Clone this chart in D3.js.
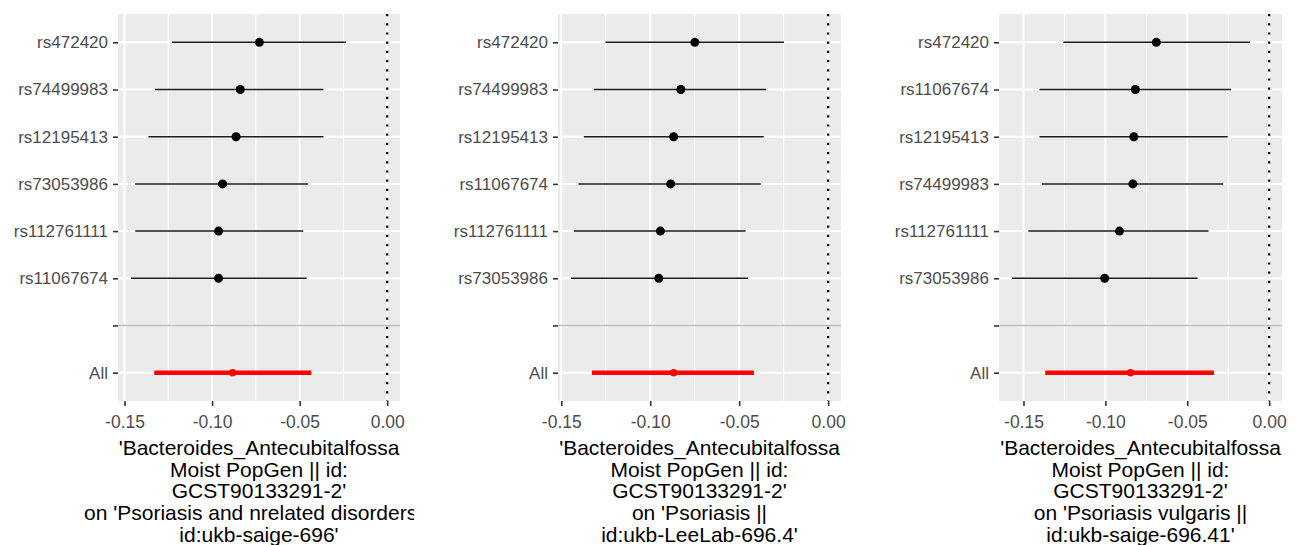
<!DOCTYPE html>
<html>
<head>
<meta charset="utf-8">
<script src="https://cdn.jsdelivr.net/npm/d3@7"></script>
<style>
  body { margin: 0; background: #fff; }
  svg text { font-family: "Liberation Sans", Arial, sans-serif; }
</style>
</head>
<body>
<div id="chart"></div>
<script>
// data: snp order top to bottom, estimate, ci low, ci high
var snps1 = ["rs472420", "rs74499983", "rs12195413", "rs73053986", "rs112761111", "rs11067674"];
var beta1 = [-0.0730, -0.0839, -0.0863, -0.0940, -0.0963, -0.0963];
var lo1 = [-0.1229, -0.1326, -0.1363, -0.1439, -0.1439, -0.1464];
var hi1 = [-0.0234, -0.0364, -0.0364, -0.0452, -0.0479, -0.0460];
var all1 = [-0.0883, -0.1330, -0.0433];
var title1 = ["'Bacteroides_Antecubitalfossa", "Moist PopGen || id:", "GCST90133291-2'", "on 'Psoriasis and nrelated disorders ||", "id:ukb-saige-696'"];

var snps2 = ["rs472420", "rs74499983", "rs12195413", "rs11067674", "rs112761111", "rs73053986"];
var beta2 = [-0.0749, -0.0828, -0.0868, -0.0885, -0.0943, -0.0952];
var lo2 = [-0.1252, -0.1317, -0.1373, -0.1403, -0.1429, -0.1446];
var hi2 = [-0.0248, -0.0348, -0.0362, -0.0379, -0.0464, -0.0449];
var all2 = [-0.0868, -0.1328, -0.0417];
var title2 = ["'Bacteroides_Antecubitalfossa", "Moist PopGen || id:", "GCST90133291-2'", "on 'Psoriasis ||", "id:ukb-LeeLab-696.4'"];

var snps3 = ["rs472420", "rs11067674", "rs12195413", "rs74499983", "rs112761111", "rs73053986"];
var beta3 = [-0.0689, -0.0817, -0.0826, -0.0832, -0.0914, -0.1004];
var lo3 = [-0.1257, -0.1402, -0.1402, -0.1388, -0.1470, -0.1571];
var hi3 = [-0.0116, -0.0233, -0.0253, -0.0280, -0.0370, -0.0437];
var all3 = [-0.0846, -0.1367, -0.0337];
var title3 = ["'Bacteroides_Antecubitalfossa", "Moist PopGen || id:", "GCST90133291-2'", "on 'Psoriasis vulgaris ||", "id:ukb-saige-696.41'"];

var xTicks = [-0.15, -0.10, -0.05, 0];

var svgWidth = 1297;
var svgHeight = 545;
var panelTop = 14;
var panelBottom = 401;

var panels = [
  {snps: snps1, beta: beta1, lo: lo1, hi: hi1, all: all1, title: title1, left: 118, right: 400},
  {snps: snps2, beta: beta2, lo: lo2, hi: hi2, all: all2, title: title2, left: 558, right: 841},
  {snps: snps3, beta: beta3, lo: lo3, hi: hi3, all: all3, title: title3, left: 999, right: 1282}
];

var svg = d3.select("#chart")
  .append("svg")
  .attr("width", svgWidth)
  .attr("height", svgHeight);

var defs = svg.append("defs");

panels.forEach(function(p, i) {
  // ggplot style 5% expansion, 0 is included through the vline
  var xmin = d3.min(p.lo.concat([p.all[1]]));
  var xmax = Math.max(0, d3.max(p.hi.concat([p.all[2]])));
  var pad = (xmax - xmin) * 0.05;
  var x = d3.scaleLinear()
    .domain([xmin - pad, xmax + pad])
    .range([p.left, p.right]);

  var cats = p.snps.concat(["", "All"]);
  var y = d3.scalePoint()
    .domain(cats)
    .range([panelTop, panelBottom])
    .padding(0.6);

  var g = svg.append("g");

  g.append("rect")
    .attr("x", p.left)
    .attr("y", panelTop)
    .attr("width", p.right - p.left)
    .attr("height", panelBottom - panelTop)
    .attr("fill", "#ebebeb");

  // minor grid
  var minor = d3.range(-0.2, 0.05, 0.025)
    .map(function(v) { return Math.round(v * 1000) / 1000; })
    .filter(function(v) { return Math.round(v * 1000) % 50 != 0; })
    .filter(function(v) { return v > x.domain()[0] && v < x.domain()[1]; });

  g.selectAll(".minor")
    .data(minor)
    .enter().append("line")
    .attr("x1", d => x(d)).attr("x2", d => x(d))
    .attr("y1", panelTop).attr("y2", panelBottom)
    .attr("stroke", "#fff")
    .attr("stroke-width", 1);

  g.selectAll(".vmajor")
    .data(xTicks)
    .enter().append("line")
    .attr("x1", d => x(d)).attr("x2", d => x(d))
    .attr("y1", panelTop).attr("y2", panelBottom)
    .attr("stroke", "#fff")
    .attr("stroke-width", 2);

  g.selectAll(".hmajor")
    .data(cats)
    .enter().append("line")
    .attr("x1", p.left).attr("x2", p.right)
    .attr("y1", d => y(d)).attr("y2", d => y(d))
    .attr("stroke", "#fff")
    .attr("stroke-width", 2);

  // separator line at the empty row
  g.append("line")
    .attr("x1", p.left).attr("x2", p.right)
    .attr("y1", y("")).attr("y2", y(""))
    .attr("stroke", "#bababa")
    .attr("stroke-width", 1.6);

  // dotted zero line
  g.append("line")
    .attr("x1", x(0)).attr("x2", x(0))
    .attr("y1", panelTop).attr("y2", panelBottom)
    .attr("stroke", "#000")
    .attr("stroke-width", 2.2)
    .attr("stroke-dasharray", "2.2 7");

  var rows = p.snps.map(function(s, j) {
    return {snp: s, beta: p.beta[j], lo: p.lo[j], hi: p.hi[j]};
  });

  g.selectAll(".ci")
    .data(rows)
    .enter().append("line")
    .attr("x1", d => x(d.lo)).attr("x2", d => x(d.hi))
    .attr("y1", d => y(d.snp)).attr("y2", d => y(d.snp))
    .attr("stroke", "#1a1a1a")
    .attr("stroke-width", 1.5);

  g.selectAll(".pt")
    .data(rows)
    .enter().append("circle")
    .attr("cx", d => x(d.beta))
    .attr("cy", d => y(d.snp))
    .attr("r", 4.5)
    .attr("fill", "#000");

  g.append("line")
    .attr("x1", x(p.all[1])).attr("x2", x(p.all[2]))
    .attr("y1", y("All")).attr("y2", y("All"))
    .attr("stroke", "#ff0000")
    .attr("stroke-width", 4.4);

  g.append("circle")
    .attr("cx", x(p.all[0]))
    .attr("cy", y("All"))
    .attr("r", 3.6)
    .attr("fill", "#ff0000");

  // axes
  var xAxis = g.append("g")
    .attr("transform", `translate(0,${panelBottom})`)
    .call(d3.axisBottom(x).tickValues(xTicks).tickSize(5).tickFormat(d => d.toFixed(2)));
  xAxis.select(".domain").remove();
  xAxis.selectAll("line").attr("stroke", "#333").attr("stroke-width", 1.6);
  xAxis.selectAll("text")
    .attr("dy", null)
    .attr("y", 27)
    .attr("fill", "#4d4d4d")
    .attr("font-size", "17.5px");

  var yAxis = g.append("g")
    .attr("transform", `translate(${p.left},0)`)
    .call(d3.axisLeft(y).tickSize(5).tickPadding(5));
  yAxis.select(".domain").remove();
  yAxis.selectAll("line").attr("stroke", "#333").attr("stroke-width", 1.6);
  yAxis.selectAll("text")
    .attr("fill", "#4d4d4d")
    .attr("font-size", "17px");

  // axis title, clipped at the cell edge like the original
  defs.append("clipPath")
    .attr("id", "clip" + i)
    .append("rect")
    .attr("x", p.left - 118)
    .attr("y", 0)
    .attr("width", p.right - p.left + 132)
    .attr("height", svgHeight);

  var cx = (p.left + p.right) / 2;
  g.append("g")
    .attr("clip-path", `url(#clip${i})`)
    .selectAll("text")
    .data(p.title)
    .enter().append("text")
    .attr("x", cx)
    .attr("y", (d, k) => 455 + k * 21.7)
    .attr("text-anchor", "middle")
    .attr("fill", "#000")
    .attr("font-size", "21px")
    .text(d => d);
});
</script>
</body>
</html>
